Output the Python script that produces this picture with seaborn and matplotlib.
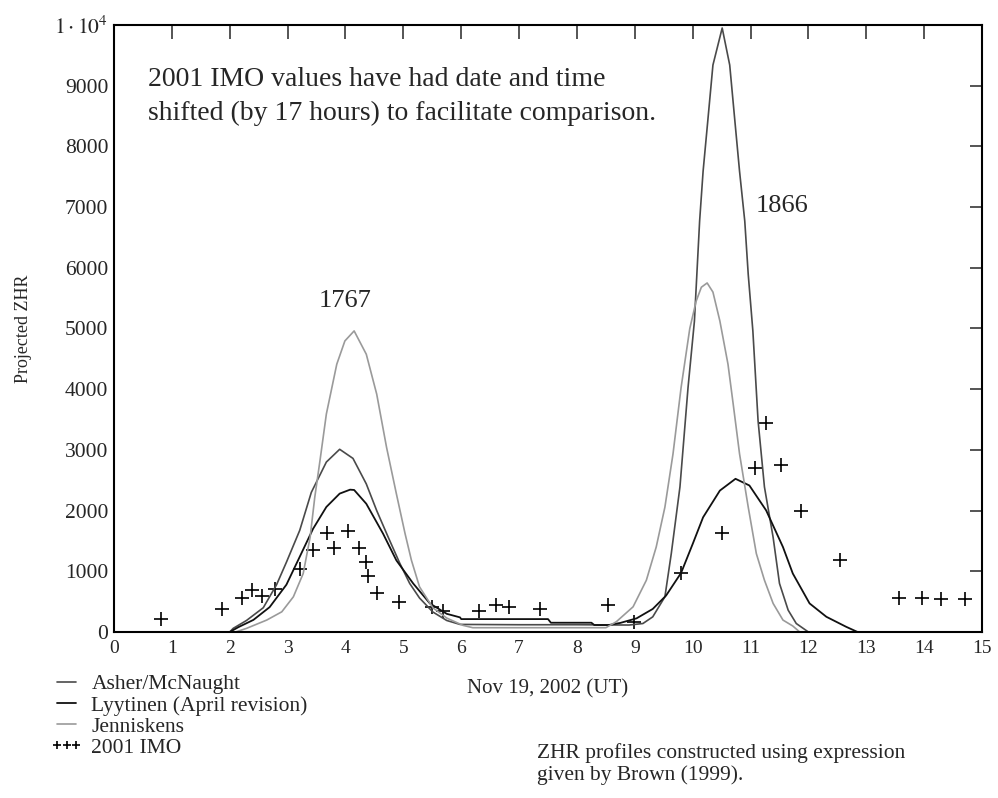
import matplotlib
matplotlib.use("Agg")
import matplotlib.pyplot as plt
from matplotlib.legend_handler import HandlerPathCollection
import seaborn as sns

# curve values
asher_x = [0, 2.0, 2.06, 2.29, 2.58, 2.81, 2.98, 3.21, 3.41, 3.67,
           3.90, 4.13, 4.36, 4.54, 4.74, 4.94, 5.11, 5.28, 5.51, 5.75,
           5.98, 7.0, 8.0, 8.9, 9.14, 9.31, 9.52, 9.63, 9.78, 9.92,
           10.03, 10.12, 10.18, 10.26, 10.35, 10.51, 10.64, 10.73, 10.81, 10.90,
           10.96, 11.04, 11.13, 11.24, 11.39, 11.50, 11.65, 11.79, 11.91, 12.0, 15]
asher_y = [0, 0, 60, 190, 400, 780, 1150, 1675, 2300, 2800,
           3010, 2860, 2440, 2000, 1560, 1130, 800, 560, 330, 190,
           125, 120, 120, 115, 140, 250, 580, 1290, 2390, 4030,
           5120, 6770, 7590, 8410, 9340, 9950, 9340, 8410, 7590, 6770,
           5890, 4960, 3480, 2390, 1560, 800, 360, 140, 60, 0, 0]

lyytinen_x = [0, 2.0, 2.15, 2.41, 2.69, 2.98, 3.21, 3.44, 3.67, 3.90,
              4.08, 4.15, 4.36, 4.65, 4.88, 5.17, 5.46, 5.75, 5.98, 6.0,
              7.5, 7.55, 8.25, 8.3, 8.55, 8.75, 9.03, 9.31, 9.54, 9.80,
              10.0, 10.18, 10.47, 10.74, 10.98, 11.27, 11.56, 11.73, 12.02, 12.31,
              12.65, 12.85, 15]
lyytinen_y = [0, 0, 80, 200, 410, 780, 1240, 1700, 2060, 2280,
              2345, 2340, 2113, 1620, 1180, 800, 470, 300, 241, 213,
              213, 153, 153, 115, 115, 150, 225, 380, 600, 974,
              1450, 1890, 2330, 2524, 2414, 2003, 1400, 964, 471, 251,
              87, 0, 0]

jenniskens_x = [0, 2.1, 2.29, 2.64, 2.90, 3.10, 3.27, 3.39, 3.47, 3.56,
                3.67, 3.85, 3.99, 4.15, 4.36, 4.54, 4.71, 4.88, 5.03, 5.14,
                5.28, 5.51, 5.75, 6.03, 6.2, 8.5, 8.68, 8.97, 9.20, 9.37,
                9.52, 9.66, 9.80, 9.95, 10.06, 10.15, 10.25, 10.35, 10.47, 10.61,
                10.70, 10.81, 10.96, 11.10, 11.24, 11.39, 11.56, 11.73, 11.85, 15]
jenniskens_y = [0, 0, 60, 197, 333, 580, 964, 1565, 2222, 2824,
                3591, 4412, 4795, 4960, 4576, 3919, 3043, 2277, 1621, 1182,
                744, 400, 230, 110, 71, 71, 169, 415, 854, 1401,
                2057, 2934, 4028, 5000, 5450, 5680, 5750, 5600, 5123, 4412,
                3755, 2934, 2057, 1292, 854, 471, 197, 99, 0, 0]

imo_x = [0.82, 1.86, 2.22, 2.39, 2.55, 2.79, 3.21, 3.44, 3.68, 3.80,
         4.05, 4.24, 4.35, 4.39, 4.55, 4.93, 5.50, 5.69, 6.30, 6.61,
         6.83, 7.36, 8.54, 8.99, 9.80, 10.50, 11.07, 11.27, 11.52, 11.87,
         12.55, 13.56, 13.96, 14.29, 14.70]
imo_y = [208, 377, 563, 700, 591, 706, 1034, 1346, 1631, 1385,
         1658, 1391, 1155, 920, 646, 498, 420, 345, 350, 450,
         416, 385, 450, 170, 974, 1631, 2704, 3437, 2754, 1987,
         1194, 563, 563, 537, 537]

x_ticks = list(range(0, 16))
y_ticks = list(range(0, 10001, 1000))
y_labels = [str(v) for v in y_ticks[:-1]] + [r"$1\cdot10^{4}$"]

sns.set_style("white")
plt.rcParams["font.family"] = ["Liberation Serif", "DejaVu Serif"]
plt.rcParams["mathtext.fontset"] = "stix"

fig = plt.figure(figsize=(9.98, 7.98), dpi=100)
ax = fig.add_axes([0.1142, 0.208, 0.8698, 0.7607])

sns.lineplot(x=asher_x, y=asher_y, ax=ax, color="#4a4a4a", lw=1.2, label="Asher/McNaught")
sns.lineplot(x=lyytinen_x, y=lyytinen_y, ax=ax, color="#111111", lw=1.3, label="Lyytinen (April revision)")
sns.lineplot(x=jenniskens_x, y=jenniskens_y, ax=ax, color="#9a9a9a", lw=1.2, label="Jenniskens")
sns.scatterplot(x=imo_x, y=imo_y, ax=ax, marker="+", s=110, color="black", linewidth=1.2, label="2001 IMO")

ax.set_xlim(0, 15)
ax.set_ylim(0, 10000)
ax.set_xticks(x_ticks)
ax.set_yticks(y_ticks)
ax.set_yticklabels(y_labels)
ax.tick_params(axis="x", direction="in", length=10, width=1.1, top=True, labelsize=14, pad=6)
ax.tick_params(axis="y", direction="in", length=9, width=1.1, right=True, labelsize=15.5, pad=4)
for sp in ax.spines.values():
    sp.set_linewidth(1.5)
    sp.set_color("black")

ax.set_xlabel("Nov 19, 2002 (UT)", fontsize=15, labelpad=16)
ax.set_ylabel("Projected ZHR", fontsize=13, labelpad=16)

ax.text(0.59, 9110, "2001 IMO values have had date and time", fontsize=20, va="center")
ax.text(0.59, 8540, "shifted (by 17 hours) to facilitate comparison.", fontsize=20, va="center")
ax.text(4.0, 5450, "1767", fontsize=19, ha="center", va="center")
ax.text(11.55, 7010, "1866", fontsize=19, ha="center", va="center")

fig.text(0.538, 0.042, "ZHR profiles constructed using expression\ngiven by Brown (1999).",
         fontsize=15.5, va="center", ha="left", linespacing=1.15)

handles, labels = ax.get_legend_handles_labels()
ax.get_legend().remove()
fig.legend(handles, labels, loc="upper left", bbox_to_anchor=(0.057, 0.155), frameon=False,
           fontsize=15.5, handlelength=0.9, handletextpad=0.7, labelspacing=0.05,
           borderpad=0, borderaxespad=0, scatterpoints=3, scatteryoffsets=[0.5],
           markerscale=0.55,
           handler_map={handles[3]: HandlerPathCollection(marker_pad=0.0, numpoints=3,
                                                          yoffsets=[0.5, 0.5, 0.5])})

fig.savefig("out.png", dpi=100)
